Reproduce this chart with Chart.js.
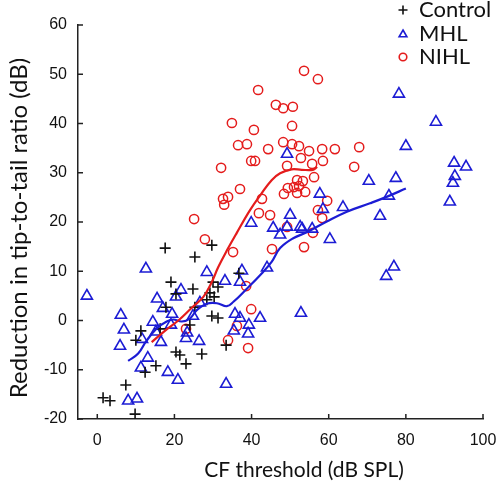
<!DOCTYPE html>
<html>
<head>
<meta charset="utf-8">
<script src="https://cdn.jsdelivr.net/npm/chart.js@4.4.0/dist/chart.umd.min.js"></script>
<style>
  body { margin: 0; background: #fff; }
  #wrap { width: 500px; height: 485px; position: relative; }
</style>
</head>
<body>
<div id="wrap"><canvas id="myChart"></canvas></div>
<script>
// data
var controlX = [1.5, 3.3, 7.4, 9.8, 12.4, 15.2, 11.3, 10.0, 16.3, 17.8, 19.1, 20.4, 24.8, 17.6, 25.3, 29.7, 20.4, 21.4, 23.0, 27.1, 24.0, 25.3, 29.2, 30.3, 28.4, 31.3, 30.0, 29.7, 31.3, 33.4, 36.7];
var controlY = [-15.7, -16.3, -13.1, -19.0, -10.5, -9.2, -2.1, -4.0, -1.7, 2.7, 7.8, 5.4, 6.4, 14.7, 12.9, 15.3, -6.4, -7.0, -8.8, -6.8, -0.9, 2.7, 5.6, 4.8, 4.2, 6.8, 7.8, 0.9, 0.5, -5.0, 9.6];

var mhlX = [-2.7, 6.1, 6.9, 5.9, 12.6, 15.5, 17.0, 21.7, 20.4, 19.4, 19.1, 14.4, 15.2, 11.6, 16.5, 13.1, 11.3, 18.3, 20.9, 8.0, 10.3, 28.4, 33.1, 37.5, 37.0, 26.6, 24.8, 23.3, 23.0, 26.4, 35.7, 37.0, 39.3, 35.4, 39.1, 42.2, 33.4, 39.9, 44.0, 45.6, 47.4, 49.2, 50.0, 52.6, 53.1, 55.7, 57.7, 58.5, 63.7, 60.3, 52.8, 70.4, 77.4, 75.6, 73.3, 76.9, 74.9, 78.2, 87.8, 80.0, 92.5, 95.6, 92.7, 92.2, 91.4, 49.2];
var mhlY = [5.0, 1.1, -1.9, -5.2, 10.5, 4.4, 2.5, 6.2, 4.8, 1.3, -0.9, -0.3, -2.3, -3.8, -4.4, -7.6, -9.6, -10.5, -12.1, -16.3, -15.9, 9.8, 8.0, 10.1, 7.8, 3.6, 0.9, -2.5, -3.6, -4.2, 1.3, 0.5, -0.9, -2.1, -2.7, 0.5, -12.9, 19.8, 10.7, 18.8, 17.4, 33.8, 21.4, 19.0, 18.6, 18.6, 25.7, 22.6, 23.0, 16.5, 1.5, 28.3, 28.9, 25.3, 21.2, 10.9, 9.0, 46.0, 40.3, 35.4, 32.0, 31.2, 29.3, 27.9, 24.1, 19.0];

var nihlX = [53.6, 57.2, 41.7, 46.3, 48.2, 50.7, 34.9, 40.6, 50.5, 36.5, 38.8, 44.3, 48.2, 50.5, 52.3, 54.9, 58.3, 61.6, 67.9, 39.9, 40.9, 52.8, 55.7, 58.5, 66.6, 32.1, 49.2, 56.2, 51.8, 53.3, 52.3, 49.4, 51.0, 51.8, 53.9, 48.4, 37.0, 32.6, 33.9, 32.9, 42.7, 41.9, 44.8, 59.6, 57.2, 58.3, 49.2, 55.9, 25.1, 27.9, 35.2, 45.3, 53.6, 38.6, 39.9, 23.0, 36.2, 33.9, 39.1];
var nihlY = [50.7, 49.0, 46.8, 43.8, 43.1, 43.4, 40.1, 38.7, 39.5, 35.6, 35.8, 34.8, 36.2, 35.8, 35.4, 34.4, 34.8, 34.8, 35.2, 32.4, 32.4, 33.0, 31.8, 32.4, 31.2, 31.0, 31.4, 29.1, 28.5, 28.3, 27.3, 26.9, 27.1, 25.9, 26.1, 25.7, 26.7, 24.7, 25.1, 23.5, 24.7, 21.8, 21.4, 24.3, 22.4, 20.8, 19.0, 17.8, 20.6, 16.5, 13.9, 14.5, 14.9, 7.0, 2.3, -1.7, -1.1, -4.0, -5.6];

// smoothed trend curves
var nihlFitX = [14.1, 18.0, 21.0, 24.5, 27.5, 29.5, 31.4, 33.8, 36.1, 39.6, 42.6, 45.2, 47.4, 50.4, 53.0, 55.9, 57.0];
var nihlFitY = [-4.4, -1.8, 0.0, 2.6, 4.8, 7.5, 10.9, 14.5, 17.7, 22.4, 25.8, 28.5, 29.9, 30.7, 30.6, 30.6, 31.2];
var mhlFitX = [8.0, 10.6, 12.6, 15.4, 18.0, 19.7, 21.9, 24.0, 25.8, 28.4, 31.0, 33.6, 35.3, 38.7, 42.2, 45.2, 47.4, 50.8, 54.3, 59.5, 64.7, 70.7, 75.0, 80.0];
var mhlFitY = [-8.2, -6.7, -4.3, -1.6, -0.2, 0.2, -0.2, 0.4, 2.1, 3.4, 3.5, 2.9, 3.8, 6.4, 9.2, 11.9, 14.7, 16.7, 17.9, 20.1, 22.1, 23.8, 25.1, 26.8];

var xTicks = [0, 20, 40, 60, 80, 100];
var yTicks = [-20, -10, 0, 10, 20, 30, 40, 50, 60];

var blue = 'rgb(28,28,212)';
var red = 'rgb(228,28,28)';
var black = '#111';

function pts(xs, ys) {
    return xs.map(function (x, i) { return { x: x, y: ys[i] }; });
}

var legendItems = [
    { text: 'Control', style: 'cross', color: black, r: 4.5 },
    { text: 'MHL', style: 'triangle', color: blue, r: 4.5 },
    { text: 'NIHL', style: 'circle', color: red, r: 3.8 }
];

var extras = {
    id: 'extras',
    afterDraw: function (chart) {
        var ctx = chart.ctx;
        var xs = chart.scales.x, ys = chart.scales.y;
        var area = chart.chartArea;
        ctx.save();
        // inward tick marks
        ctx.strokeStyle = '#222';
        ctx.lineWidth = 1.5;
        ctx.beginPath();
        xTicks.forEach(function (v) {
            var px = xs.getPixelForValue(v);
            ctx.moveTo(px, area.bottom);
            ctx.lineTo(px, area.bottom - 5);
        });
        yTicks.forEach(function (v) {
            var py = ys.getPixelForValue(v);
            ctx.moveTo(area.left, py);
            ctx.lineTo(area.left + 5, py);
        });
        ctx.stroke();

        // axis titles
        ctx.fillStyle = black;
        ctx.textAlign = 'center';
        ctx.textBaseline = 'middle';
        ctx.font = '21px Lato';
        ctx.fillText('CF threshold (dB SPL)', 304, 470);
        ctx.font = '24px Lato';
        ctx.translate(19, 228);
        ctx.rotate(-Math.PI / 2);
        ctx.fillText('Reduction in tip-to-tail ratio (dB)', 0, 0);
        ctx.restore();

        // legend
        ctx.save();
        ctx.font = '22px Lato';
        ctx.textAlign = 'left';
        ctx.textBaseline = 'middle';
        legendItems.forEach(function (it, i) {
            var y = 10 + i * 23.5;
            ctx.strokeStyle = it.color;
            ctx.fillStyle = 'rgba(0,0,0,0)';
            ctx.lineWidth = 1.6;
            Chart.helpers.drawPoint(ctx, { pointStyle: it.style, radius: it.r, borderWidth: 1.6, rotation: 0 }, 403, y + (it.style === 'triangle' ? 1 : 0));
            ctx.fillStyle = black;
            ctx.fillText(it.text, 419, y);
        });
        ctx.restore();
    }
};

var ctx = document.getElementById('myChart').getContext('2d');
var myChart = new Chart(ctx, {
    type: 'scatter',
    data: {
        datasets: [
            {
                label: 'NIHL fit',
                data: pts(nihlFitX, nihlFitY),
                showLine: true,
                borderColor: red,
                borderWidth: 2.2,
                pointRadius: 0,
                tension: 0.4,
                fill: false
            },
            {
                label: 'MHL fit',
                data: pts(mhlFitX, mhlFitY),
                showLine: true,
                borderColor: blue,
                borderWidth: 2.2,
                pointRadius: 0,
                tension: 0.4,
                fill: false
            },
            {
                label: 'Control',
                data: pts(controlX, controlY),
                pointStyle: 'cross',
                pointRadius: 5.5,
                borderColor: black,
                borderWidth: 1.6,
                backgroundColor: 'rgba(0,0,0,0)'
            },
            {
                label: 'MHL',
                data: pts(mhlX, mhlY),
                pointStyle: 'triangle',
                pointRadius: 6.4,
                borderColor: blue,
                borderWidth: 1.6,
                backgroundColor: 'rgba(0,0,0,0)'
            },
            {
                label: 'NIHL',
                data: pts(nihlX, nihlY),
                pointStyle: 'circle',
                pointRadius: 4.6,
                borderColor: red,
                borderWidth: 1.5,
                backgroundColor: 'rgba(0,0,0,0)'
            }
        ]
    },
    options: {
        responsive: true,
        maintainAspectRatio: false,
        animation: false,
        layout: { padding: { top: 25, right: 17, left: 0, bottom: 0 } },
        plugins: {
            legend: { display: false },
            tooltip: { enabled: false }
        },
        scales: {
            x: {
                type: 'linear',
                min: -5,
                max: 100,
                afterBuildTicks: function (scale) {
                    scale.ticks = xTicks.map(function (v) { return { value: v }; });
                },
                afterFit: function (scale) {
                    scale.height = 66;
                    scale.paddingLeft = 0;
                    scale.paddingRight = 0;
                },
                grid: { display: false, drawTicks: false },
                border: { display: true, color: '#222', width: 1.5 },
                ticks: {
                    padding: 12,
                    color: black,
                    font: { family: 'Liberation Sans', size: 16 },
                    maxRotation: 0
                }
            },
            y: {
                type: 'linear',
                min: -20,
                max: 60,
                afterBuildTicks: function (scale) {
                    scale.ticks = yTicks.map(function (v) { return { value: v }; });
                },
                afterFit: function (scale) {
                    scale.width = 78;
                    scale.paddingTop = 0;
                    scale.paddingBottom = 0;
                },
                grid: { display: false, drawTicks: false },
                border: { display: true, color: '#222', width: 1.5 },
                ticks: {
                    padding: 11,
                    color: black,
                    font: { family: 'Liberation Sans', size: 16 }
                }
            }
        }
    },
    plugins: [extras]
});
</script>
</body>
</html>
